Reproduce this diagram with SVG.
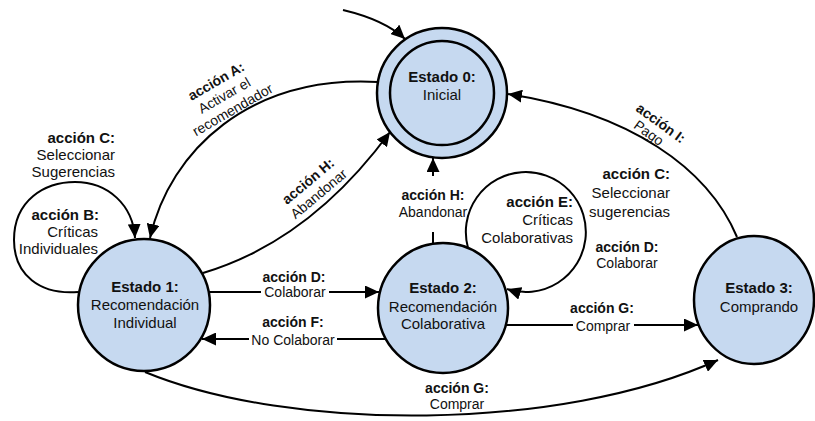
<svg xmlns="http://www.w3.org/2000/svg" width="815" height="421" viewBox="0 0 815 421">
  <defs>
    <marker id="arrow" markerUnits="userSpaceOnUse" markerWidth="15" markerHeight="13" refX="14" refY="6.5" orient="auto">
      <path d="M0,0 L14,6.5 L0,13 Z" fill="#000"/>
    </marker>
    <style>
      text { font-family: "Liberation Sans", Arial, sans-serif; fill: #111; }
      .st { font-size: 15px; text-anchor: middle; }
      .lb { font-size: 15px; }
      .sm { font-size: 14px; }
      .mid { text-anchor: middle; }
      .end { text-anchor: end; }
      .b { font-weight: bold; }
      .state { fill: #c6d9f0; stroke: #000; stroke-width: 2.5; }
      .ring { fill: none; stroke: #000; stroke-width: 2.5; }
      .edge { fill: none; stroke: #000; stroke-width: 2; marker-end: url(#arrow); }
    </style>
  </defs>
  <rect width="815" height="421" fill="#fff"/>

  <!-- transitions -->
  <g id="connectors">
    <path class="edge" d="M343,10 Q385,20 405,39"/>
    <!-- A: 0 -> 1 -->
    <path class="edge" d="M378,82 C250,75 170,150 150,238"/>
    <!-- H: 1 -> 0 -->
    <path class="edge" d="M203,273 C280,250 340,200 390,132"/>
    <!-- B: loop on 1 -->
    <path class="edge" d="M78,292 C40,295 14,275 14,240 C14,200 45,182 75,182 C108,182 133,205 135,238"/>
    <!-- H: 2 -> 0 -->
    <path class="edge" d="M433,244 V232 M433,176 V158"/>
    <!-- E: loop on 2 -->
    <path class="edge" d="M468,248 A60,60 0 1 1 507,289"/>
    <!-- D: 1 -> 2 -->
    <path class="edge" d="M209,292 H261 M329,292 H379"/>
    <!-- F: 2 -> 1 -->
    <path class="edge" d="M386,339 H337 M249,339 H202"/>
    <!-- G: 2 -> 3 -->
    <path class="edge" d="M506,325 H573 M634,325 H698"/>
    <!-- G: 1 -> 3 -->
    <path class="edge" d="M145,372 C290,432 560,432 718,360"/>
    <!-- I: 3 -> 0 -->
    <path class="edge" d="M737,237 C708,168 630,113 508,94"/>
  </g>

  <!-- states -->
  <g id="estado0">
    <circle class="state" cx="442" cy="93" r="65"/>
    <circle class="ring" cx="442" cy="93" r="52"/>
    <text class="st b" x="442" y="82">Estado 0:</text>
    <text class="st" x="442" y="100">Inicial</text>
  </g>
  <g id="estado1">
    <circle class="state" cx="144" cy="305" r="66"/>
    <text class="st b" x="145" y="292">Estado 1:</text>
    <text class="st" x="145" y="310">Recomendación</text>
    <text class="st" x="145" y="328">Individual</text>
  </g>
  <g id="estado2">
    <circle class="state" cx="443" cy="308" r="65"/>
    <text class="st b" x="443" y="293">Estado 2:</text>
    <text class="st" x="443" y="312">Recomendación</text>
    <text class="st" x="443" y="329">Colaborativa</text>
  </g>
  <g id="estado3">
    <ellipse class="state" cx="754" cy="300" rx="60" ry="64"/>
    <text class="st b" x="759" y="293">Estado 3:</text>
    <text class="st" x="759" y="312">Comprando</text>
  </g>

  <!-- transition labels -->
  <g id="labels">
    <g transform="translate(216,81) rotate(-30)">
      <text class="sm mid b" x="0" y="5">acción A:</text>
      <text class="sm mid" x="0" y="21.5">Activar el</text>
      <text class="sm mid" x="0" y="38">recomendador</text>
    </g>
    <g transform="translate(308,181) rotate(-40)">
      <text class="sm mid b" x="0" y="5">acción H:</text>
      <text class="sm mid" x="0" y="21.5">Abandonar</text>
    </g>
    <g transform="translate(661,123) rotate(36)">
      <text class="sm mid b" x="0" y="5">acción I:</text>
      <text class="sm mid" x="-4" y="20">Pago</text>
    </g>
    <text class="lb end b" x="115" y="143">acción C:</text>
    <text class="lb end" x="115" y="160">Seleccionar</text>
    <text class="lb end" x="115" y="177">Sugerencias</text>

    <text class="lb end b" x="99" y="220">acción B:</text>
    <text class="lb end" x="98" y="237">Críticas</text>
    <text class="lb end" x="98" y="254">Individuales</text>

    <text class="sm mid b" x="433" y="200">acción H:</text>
    <text class="sm mid" x="433" y="217">Abandonar</text>

    <text class="lb end b" x="573" y="207">acción E:</text>
    <text class="lb end" x="573" y="225">Críticas</text>
    <text class="lb end" x="573" y="243">Colaborativas</text>

    <text class="lb end b" x="670" y="179">acción C:</text>
    <text class="lb end" x="670" y="198">Seleccionar</text>
    <text class="lb end" x="670" y="217">sugerencias</text>

    <text class="sm mid b" x="627" y="252">acción D:</text>
    <text class="sm mid" x="627" y="268">Colaborar</text>

    <text class="sm mid b" x="294" y="282">acción D:</text>
    <text class="sm mid" x="295" y="297">Colaborar</text>

    <text class="sm mid b" x="293" y="327">acción F:</text>
    <text class="sm mid" x="293" y="345">No Colaborar</text>

    <text class="sm mid b" x="602" y="313">acción G:</text>
    <text class="sm mid" x="603" y="331">Comprar</text>

    <text class="sm mid b" x="457" y="393">acción G:</text>
    <text class="sm mid" x="457" y="409">Comprar</text>
  </g>
</svg>
